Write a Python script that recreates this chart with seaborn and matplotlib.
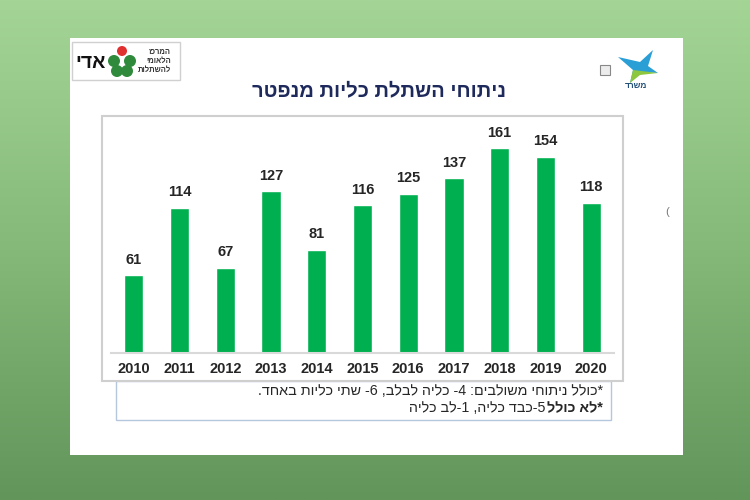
#ניתוחי השתלת כליות מנפטר - גרף עמודות
import numpy as np
import matplotlib
matplotlib.use("Agg")
import matplotlib.pyplot as plt
import seaborn as sns
from matplotlib.colors import LinearSegmentedColormap
from matplotlib.patches import Rectangle, Circle, Polygon

#נתונים
years = ["2010", "2011", "2012", "2013", "2014", "2015", "2016", "2017", "2018", "2019", "2020"]
values = [61, 114, 67, 127, 81, 116, 125, 137, 161, 154, 118]

title_he = "ניתוחי השתלת כליות מנפטר"
note1 = "*כולל ניתוחי משולבים: 4- כליה לבלב, 6- שתי כליות באחד."
note2_bold = "*לא כולל"
note2 = "5-כבד כליה, 1-לב כליה"
logo_name = "אדי"
logo_lines = ["המרכז", "הלאומי", "להשתלות"]
ministry = "משרד"


def rtl(s):
    #matplotlib מצייר משמאל לימין, אז הופכים את הסדר
    return s[::-1]


sns.set_style("white")
plt.rcParams["font.family"] = ["Liberation Sans", "DejaVu Sans"]

fig = plt.figure(figsize=(7.5, 5), dpi=100)

#רקע עם מעבר צבע + שקופית לבנה (קואורדינטות בפיקסלים)
bg = fig.add_axes([0, 0, 1, 1], zorder=0)
grad = np.linspace(0, 1, 256).reshape(-1, 1)
cmap = LinearSegmentedColormap.from_list("bg", ["#a4d597", "#84b979", "#62955a"])
bg.imshow(grad, aspect="auto", cmap=cmap, extent=[0, 750, 500, 0])
bg.set_xlim(0, 750)
bg.set_ylim(500, 0)
bg.axis("off")

bg.add_patch(Rectangle((70, 38), 613, 417, fc="white", ec="none"))
bg.add_patch(Rectangle((116, 381), 495, 39, fc="white", ec="#b4c7dc", lw=1))
bg.add_patch(Rectangle((102, 116), 521, 265, fc="white", ec="#cfcfcf", lw=1.5))

#כותרת
bg.text(379, 91, rtl(title_he), ha="center", va="center", fontsize=14.5,
        fontweight="bold", color="#1f2a5c")

#לוגו שמאל
bg.add_patch(Rectangle((72, 42), 108, 38, fc="white", ec="#d0d0d0", lw=1))
bg.text(91, 63, rtl(logo_name), ha="center", va="center", fontsize=14,
        fontweight="bold", color="#111111")
for cx, cy in [(114, 61), (130, 61), (117, 71), (127, 71)]:
    bg.add_patch(Circle((cx, cy), 6, fc="#2f8a3c", ec="none"))
bg.add_patch(Circle((122, 51), 5, fc="#e03030", ec="none"))
for i, line in enumerate(logo_lines):
    bg.text(171, 53 + i * 8.5, rtl(line), ha="right", va="center", fontsize=5.5,
            fontweight="bold", color="#333333")

#לוגו ימין
bg.add_patch(Rectangle((600, 65), 10, 10, fc="#ececec", ec="#888888", lw=0.8))
bg.add_patch(Polygon([(618, 57), (640, 62), (653, 50), (648, 66), (658, 73),
                      (640, 72), (630, 83), (633, 70)], fc="#2a9fd6", ec="none"))
bg.add_patch(Polygon([(633, 70), (658, 73), (640, 75), (630, 83)], fc="#8dc63f", ec="none"))
bg.text(636, 87, rtl(ministry), ha="center", va="center", fontsize=6,
        fontweight="bold", color="#1f4e79")
bg.text(667, 212, "(", ha="center", va="center", fontsize=8, color="#777777")

#גרף העמודות
ax = fig.add_axes([111 / 750, 1 - 353 / 500, 503 / 750, 237 / 500], zorder=2)
ax.patch.set_alpha(0)
sns.barplot(x=years, y=values, color="#00b050", saturation=1, width=0.42, ax=ax)
ax.set_xlim(-0.5, 10.5)
ax.set_ylim(0, 186)
ax.bar_label(ax.containers[0], padding=6, fontsize=10.5, fontweight="bold")
for side in ["left", "top", "right"]:
    ax.spines[side].set_visible(False)
ax.spines["bottom"].set_color("#d9d9d9")
ax.spines["bottom"].set_linewidth(1.5)
ax.set_yticks([])
ax.tick_params(axis="x", length=0, pad=6.5, labelsize=10.5)
for lbl in ax.get_xticklabels():
    lbl.set_fontweight("bold")
ax.set_xlabel("")
ax.set_ylabel("")

#הערות שוליים
bg.text(603, 391, rtl(note1), ha="right", va="center", fontsize=10.3, color="#262626")
t_b = bg.text(603, 408, rtl(note2_bold), ha="right", va="center", fontsize=10.3,
              fontweight="bold", color="#262626")
fig.canvas.draw()
bb = t_b.get_window_extent()
bg.text(bb.x0 - 2, 408, rtl(note2), ha="right", va="center", fontsize=10.3, color="#262626")

fig.savefig("out.png", dpi=100)
